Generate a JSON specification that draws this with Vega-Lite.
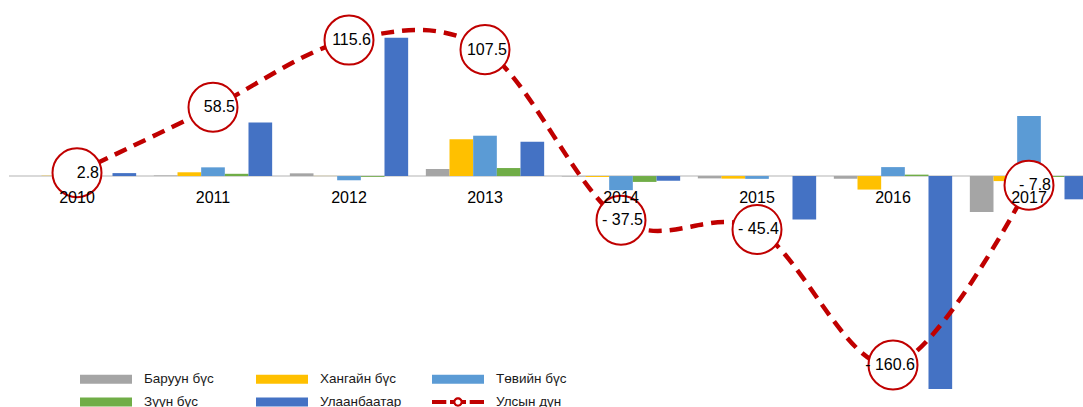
{
  "$schema": "https://vega.github.io/schema/vega-lite/v6.json",
  "width": 1074,
  "height": 407,
  "autosize": {"type": "none"},
  "padding": {"left": 9, "top": 0, "right": 0, "bottom": 0},
  "background": "white",
  "config": {
    "view": {"stroke": null},
    "font": "Liberation Sans",
    "text": {"font": "Liberation Sans"}
  },
  "datasets": {
    "regions": [
      {"year": "2010", "series": "Баруун бүс", "value": 0},
      {"year": "2010", "series": "Хангайн бүс", "value": 0.2},
      {"year": "2010", "series": "Төвийн бүс", "value": 0.1},
      {"year": "2010", "series": "Зүүн бүс", "value": 0},
      {"year": "2010", "series": "Улаанбаатар", "value": 2.5},
      {"year": "2011", "series": "Баруун бүс", "value": 0.5},
      {"year": "2011", "series": "Хангайн бүс", "value": 3.2},
      {"year": "2011", "series": "Төвийн бүс", "value": 7.4},
      {"year": "2011", "series": "Зүүн бүс", "value": 1.9},
      {"year": "2011", "series": "Улаанбаатар", "value": 45.5},
      {"year": "2012", "series": "Баруун бүс", "value": 2.3},
      {"year": "2012", "series": "Хангайн бүс", "value": 0.1},
      {"year": "2012", "series": "Төвийн бүс", "value": -3.6},
      {"year": "2012", "series": "Зүүн бүс", "value": -0.7},
      {"year": "2012", "series": "Улаанбаатар", "value": 117.5},
      {"year": "2013", "series": "Баруун бүс", "value": 6.0},
      {"year": "2013", "series": "Хангайн бүс", "value": 31.2},
      {"year": "2013", "series": "Төвийн бүс", "value": 34.3},
      {"year": "2013", "series": "Зүүн бүс", "value": 6.8},
      {"year": "2013", "series": "Улаанбаатар", "value": 29.2},
      {"year": "2014", "series": "Баруун бүс", "value": -0.4},
      {"year": "2014", "series": "Хангайн бүс", "value": -0.8},
      {"year": "2014", "series": "Төвийн бүс", "value": -12.0},
      {"year": "2014", "series": "Зүүн бүс", "value": -5.0},
      {"year": "2014", "series": "Улаанбаатар", "value": -4.0},
      {"year": "2015", "series": "Баруун бүс", "value": -2.0},
      {"year": "2015", "series": "Хангайн бүс", "value": -2.2},
      {"year": "2015", "series": "Төвийн бүс", "value": -2.4},
      {"year": "2015", "series": "Зүүн бүс", "value": 0},
      {"year": "2015", "series": "Улаанбаатар", "value": -37.0},
      {"year": "2016", "series": "Баруун бүс", "value": -2.3},
      {"year": "2016", "series": "Хангайн бүс", "value": -11.5},
      {"year": "2016", "series": "Төвийн бүс", "value": 7.6},
      {"year": "2016", "series": "Зүүн бүс", "value": 1.2},
      {"year": "2016", "series": "Улаанбаатар", "value": -181.0},
      {"year": "2017", "series": "Баруун бүс", "value": -30.6},
      {"year": "2017", "series": "Хангайн бүс", "value": -4.3},
      {"year": "2017", "series": "Төвийн бүс", "value": 51.0},
      {"year": "2017", "series": "Зүүн бүс", "value": -0.8},
      {"year": "2017", "series": "Улаанбаатар", "value": -19.8}
    ],
    "total": [
      {"year": "2010", "value": 2.8, "label": "2.8"},
      {"year": "2011", "value": 58.5, "label": "58.5"},
      {"year": "2012", "value": 115.6, "label": "115.6"},
      {"year": "2013", "value": 107.5, "label": "107.5"},
      {"year": "2014", "value": -37.5, "label": "- 37.5"},
      {"year": "2015", "value": -45.4, "label": "- 45.4"},
      {"year": "2016", "value": -160.6, "label": "- 160.6"},
      {"year": "2017", "value": -7.8, "label": "- 7.8"}
    ]
  },
  "layer": [
    {
      "data": {"name": "total"},
      "mark": {"type": "rule", "color": "#D9D9D9", "strokeWidth": 2},
      "encoding": {
        "y": {"datum": 0, "type": "quantitative", "scale": {"domain": [-196.4, 149.7], "nice": false, "zero": false}, "axis": null}
      }
    },
    {
      "data": {"name": "regions"},
      "mark": {"type": "bar"},
      "encoding": {
        "x": {"field": "year", "type": "ordinal", "axis": null, "scale": {"range": [0, 1088], "paddingInner": 0.13, "paddingOuter": 0.065}},
        "xOffset": {"field": "series", "type": "nominal", "scale": {"domain": ["Баруун бүс", "Хангайн бүс", "Төвийн бүс", "Зүүн бүс", "Улаанбаатар"], "paddingInner": 0, "paddingOuter": 0}},
        "y": {"field": "value", "type": "quantitative", "axis": null},
        "color": {
          "field": "series",
          "type": "nominal",
          "scale": {
            "domain": ["Баруун бүс", "Хангайн бүс", "Төвийн бүс", "Зүүн бүс", "Улаанбаатар", "Улсын дүн"],
            "range": ["#A5A5A5", "#FFC000", "#5B9BD5", "#70AD47", "#4472C4", "#C00000"]
          },
          "legend": {
            "title": null,
            "orient": "none",
            "legendX": 71,
            "legendY": 372,
            "direction": "horizontal",
            "columns": 3,
            "gridAlign": "all",
            "columnPadding": 30,
            "rowPadding": 9,
            "symbolSize": 196,
            "symbolStrokeWidth": 0,
            "symbolOpacity": 1,
            "symbolType": {"expr": "datum.value === 'Улсын дүн' ? 'M-1,-0.3H1.043V0.3H-1Z M1.571,-0.3H2.286V0.3H1.571Z M3.143,-0.3H3.857V0.3H3.143Z M4.386,-0.3H6.429V0.3H4.386Z M3.385,0A0.671,0.671,0,1,1,2.043,0A0.671,0.671,0,1,1,3.385,0Z M3.085,0A0.371,0.371,0,1,0,2.343,0A0.371,0.371,0,1,0,3.085,0Z' : 'M-1,-0.63H6.429V0.63H-1Z'"},
            "labelOffset": 50,
            "labelFontSize": 13.5,
            "labelFont": "Liberation Sans",
            "labelColor": "#1a1a1a",
            "labelLimit": 0
          }
        }
      }
    },
    {
      "data": {"name": "total"},
      "mark": {"type": "line", "color": "#C00000", "strokeWidth": 4.5, "strokeDash": [13, 8], "interpolate": "cardinal"},
      "encoding": {
        "x": {"field": "year", "type": "ordinal"},
        "y": {"field": "value", "type": "quantitative"}
      }
    },
    {
      "data": {"name": "total"},
      "mark": {"type": "point", "shape": "circle", "size": 2400, "filled": true, "fill": "white", "stroke": "#C00000", "strokeWidth": 2, "opacity": 1},
      "encoding": {
        "x": {"field": "year", "type": "ordinal"},
        "y": {"field": "value", "type": "quantitative"}
      }
    },
    {
      "data": {"name": "total"},
      "mark": {"type": "text", "fontSize": 16, "color": "#000000", "dx": 22, "align": "right", "baseline": "middle"},
      "encoding": {
        "x": {"field": "year", "type": "ordinal"},
        "y": {"field": "value", "type": "quantitative"},
        "text": {"field": "label"}
      }
    },
    {
      "data": {"name": "total"},
      "mark": {"type": "text", "fontSize": 16, "color": "#000000", "dy": 22, "align": "center", "baseline": "middle"},
      "encoding": {
        "x": {"field": "year", "type": "ordinal"},
        "y": {"datum": 0, "type": "quantitative"},
        "text": {"field": "year"}
      }
    }
  ]
}
